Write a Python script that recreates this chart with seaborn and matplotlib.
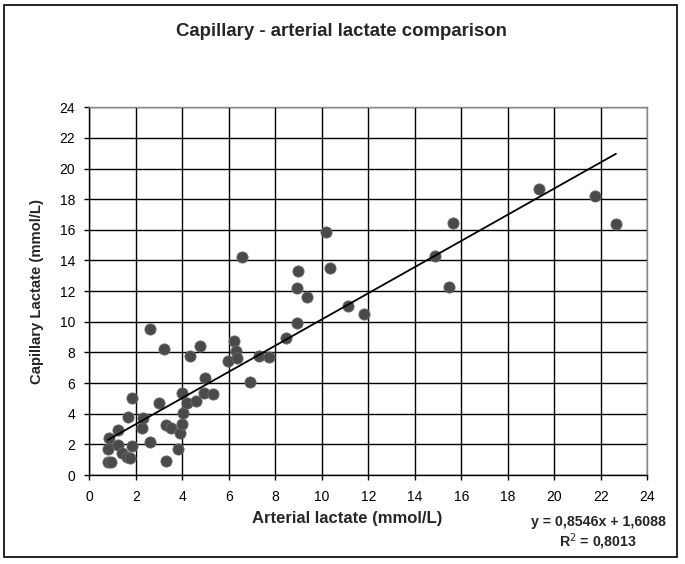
import numpy as np
import pandas as pd
import matplotlib
matplotlib.use("Agg")
import matplotlib.pyplot as plt
import seaborn as sns
from matplotlib.patches import Rectangle

# values
arterial = [0.80, 0.92, 0.82, 0.86, 1.22, 1.25, 1.40, 1.60, 1.75, 1.82,
            1.65, 1.85, 2.25, 2.30, 2.61, 2.61, 3.01, 3.21, 3.30, 3.30,
            3.50, 3.80, 3.90, 3.97, 3.97, 4.04, 4.22, 4.32, 4.59, 4.76,
            4.93, 4.98, 5.31, 5.95, 6.24, 6.30, 6.34, 6.55, 6.91, 7.30,
            7.73, 8.45, 8.92, 8.93, 8.96, 9.35, 10.18, 10.35, 11.11, 11.83,
            14.87, 15.47, 15.63, 19.35, 21.75, 22.65]
capillary = [0.87, 0.87, 1.68, 2.39, 1.96, 2.94, 1.42, 1.19, 1.12, 1.89,
             3.81, 5.00, 3.09, 3.70, 2.17, 9.51, 4.68, 8.24, 3.26, 0.91,
             3.09, 1.68, 2.72, 3.31, 5.37, 4.03, 4.68, 7.77, 4.83, 8.44,
             5.37, 6.31, 5.29, 7.46, 8.77, 8.09, 7.66, 14.25, 6.09, 7.79,
             7.68, 8.96, 9.94, 12.19, 13.32, 11.64, 15.84, 13.49, 11.05, 10.49,
             14.29, 12.29, 16.43, 18.67, 18.23, 16.38]

slope = 0.8546
intercept = 1.6088
r_squared = 0.8013

title = "Capillary - arterial lactate comparison"
x_label = "Arterial lactate (mmol/L)"
y_label = "Capillary Lactate (mmol/L)"
ticks = list(range(0, 25, 2))

df = pd.DataFrame({"arterial": arterial, "capillary": capillary})

sns.set_style("white")
plt.rcParams["font.family"] = ["Liberation Sans", "DejaVu Sans"]

fig = plt.figure(figsize=(6.85, 5.64), dpi=100)
ax = fig.add_axes([0.1304, 0.1578, 0.945 - 0.1304, 0.8098 - 0.1578])

# outer frame round the whole chart
fig.patches.append(Rectangle((4 / 685, 7 / 564), 673 / 685, 552 / 564,
                             transform=fig.transFigure, fill=False,
                             edgecolor="black", linewidth=1.2))

ax.set_axisbelow(True)
ax.grid(True, color="black", linewidth=1.0)

sns.scatterplot(data=df, x="arterial", y="capillary", ax=ax,
                color="#4a4a4a", s=65, edgecolor="#6a6a6a", linewidth=0.6,
                zorder=3)

# linear trend line from the stated equation
xs = np.array([df["arterial"].min(), df["arterial"].max()])
ax.plot(xs, slope * xs + intercept, color="black", linewidth=1.3, zorder=4)

ax.set_xlim(0, 24)
ax.set_ylim(0, 24)
ax.set_xticks(ticks)
ax.set_yticks(ticks)
ax.tick_params(axis="both", direction="out", length=3.6, width=1,
               color="black", labelsize=10, labelcolor="black")
ax.tick_params(axis="x", pad=7.5)
ax.tick_params(axis="y", pad=6.5)
ax.xaxis.set_ticks_position("bottom")
ax.yaxis.set_ticks_position("left")

for side in ["left", "bottom"]:
    ax.spines[side].set_color("black")
    ax.spines[side].set_linewidth(1.0)
for side in ["top", "right"]:
    ax.spines[side].set_color("#888888")
    ax.spines[side].set_linewidth(1.0)

ax.set_xlabel(x_label, fontsize=12, fontweight="bold", labelpad=7)
ax.xaxis.set_label_coords(0.463, -0.098)
ax.set_ylabel(y_label, fontsize=10.7, fontweight="bold", labelpad=11)

fig.text(341 / 685, 1 - 32 / 564, title, ha="center", va="center",
         fontsize=13.4, fontweight="bold")

eq = f"y = {slope:.4f}x + {intercept:.4f}".replace(".", ",")
r2 = f"R$^2$ = {r_squared:.4f}".replace(".", ",")
fig.text(666 / 685, 1 - 521.7 / 564, eq, ha="right", va="center",
         fontsize=10.2, fontweight="bold")
fig.text(637 / 685, 1 - 541.7 / 564, r2, ha="right", va="center",
         fontsize=10.2, fontweight="bold")

fig.savefig("out.png", dpi=100, facecolor="white")
